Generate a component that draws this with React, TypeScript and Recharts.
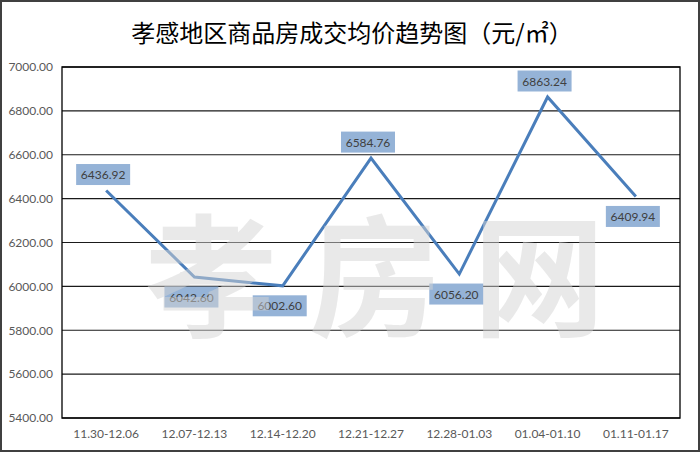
import { LineChart, Line, XAxis, YAxis, CartesianGrid, LabelList, ReferenceArea } from "recharts";

const weeks = ["11.30-12.06", "12.07-12.13", "12.14-12.20", "12.21-12.27", "12.28-01.03", "01.04-01.10", "01.11-01.17"];
const avgPrice = [6436.92, 6042.6, 6002.6, 6584.76, 6056.2, 6863.24, 6409.94];
const yTicks = [5400, 5600, 5800, 6000, 6200, 6400, 6600, 6800, 7000];
// where each value label sits relative to its point
const labelSide = ["up", "down", "down", "up", "down", "up", "down"];

const data = weeks.map((week, i) => ({ week, price: avgPrice[i] }));

function PriceLabel(props: any) {
  const { x, y, value, index } = props;
  const up = labelSide[index] === "up";
  const cy = up ? y - 16 : y + 20;
  const w = 54;
  const h = 21;
  const cx = x - 3;
  return (
    <g>
      <rect x={cx - w / 2} y={cy - h / 2} width={w} height={h} fill="#95b3d7" />
      <text x={cx} y={cy} textAnchor="middle" dominantBaseline="central" fontSize={12} fill="#404040" fontFamily="Lato">
        {Number(value).toFixed(2)}
      </text>
    </g>
  );
}

export default function App() {
  return (
    <div style={{ position: "absolute", left: 0, top: 0, width: 700, height: 452, background: "#fff", fontFamily: "Lato" }}>
      <LineChart width={700} height={452} data={data} margin={{ top: 67, right: 20, bottom: 4, left: 0 }}>
        <CartesianGrid horizontal vertical={false} stroke="#1a1a1a" strokeWidth={1.2} />
        <ReferenceArea y1={5400} y2={7000} fill="#fff" fillOpacity={0} stroke="#000" strokeWidth={1.3} />
        <XAxis
          dataKey="week"
          scale="band"
          interval={0}
          axisLine={false}
          tickLine={false}
          tickSize={0}
          tickMargin={11}
          height={30}
          tick={{ fill: "#595959", fontSize: 12 }}
        />
        <YAxis
          domain={[5400, 7000]}
          ticks={yTicks}
          tickFormatter={(v: number) => v.toFixed(2)}
          axisLine={false}
          tickLine={false}
          tickSize={0}
          tickMargin={9}
          width={62}
          tick={{ fill: "#595959", fontSize: 12 }}
        />
        <Line type="linear" dataKey="price" stroke="#4a7ebb" strokeWidth={3} dot={false} isAnimationActive={false}>
          <LabelList dataKey="price" content={PriceLabel} />
        </Line>
      </LineChart>
      <svg width={700} height={452} style={{ position: "absolute", left: 0, top: 0, pointerEvents: "none" }}>
        <text
          x={375}
          y={268}
          textAnchor="middle"
          dominantBaseline="central"
          fontSize={132}
          fontWeight={700}
          fontFamily="Noto Sans CJK SC"
          fill="#d4d4d4"
          fillOpacity={0.5}
          textLength={460}
          lengthAdjust="spacing"
        >
          孝房网
        </text>
        <text x={352} y={31} textAnchor="middle" dominantBaseline="central" fontSize={24} fontFamily="Noto Sans CJK SC" fill="#000">
          孝感地区商品房成交均价趋势图（元/㎡）
        </text>
      </svg>
      <div style={{ position: "absolute", left: 0, top: 0, width: 700, height: 452, boxSizing: "border-box", border: "2px solid #404040", pointerEvents: "none" }} />
    </div>
  );
}
